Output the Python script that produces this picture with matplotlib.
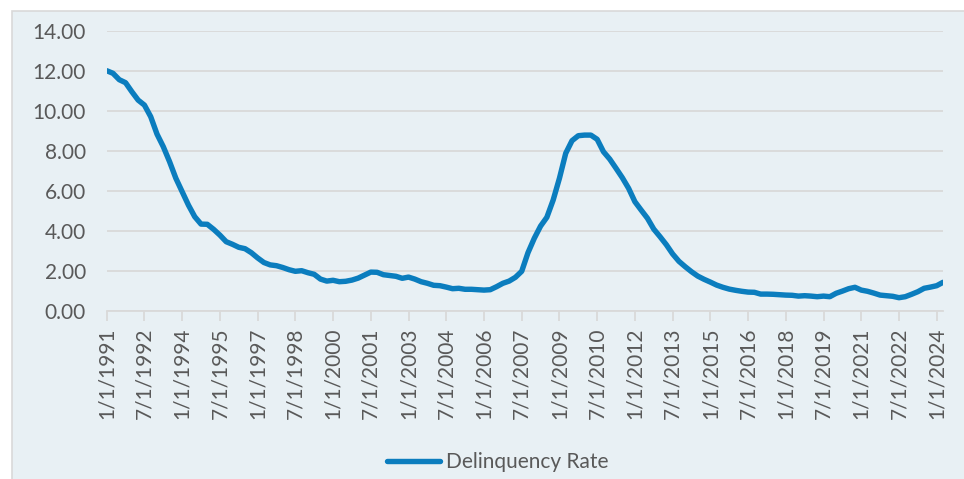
import matplotlib
matplotlib.use("Agg")
import matplotlib.pyplot as plt
from matplotlib.patches import Rectangle

# Quarterly delinquency rate, 1991 Q1 .. 2024 Q2
start_year = 1991
rates = [
    12.00, 11.87, 11.55, 11.40, 10.95, 10.53, 10.28, 9.70, 8.83, 8.20,
    7.45, 6.62, 5.95, 5.28, 4.70, 4.33, 4.32, 4.07, 3.78, 3.45,
    3.32, 3.17, 3.10, 2.90, 2.64, 2.41, 2.29, 2.25, 2.16, 2.05,
    1.97, 2.00, 1.90, 1.82, 1.58, 1.48, 1.52, 1.45, 1.47, 1.53,
    1.63, 1.78, 1.93, 1.92, 1.80, 1.76, 1.72, 1.62, 1.68, 1.58,
    1.45, 1.37, 1.27, 1.25, 1.18, 1.10, 1.12, 1.07, 1.07, 1.05,
    1.03, 1.05, 1.20, 1.37, 1.48, 1.67, 1.97, 2.90, 3.62, 4.23,
    4.67, 5.53, 6.62, 7.87, 8.50, 8.75, 8.78, 8.78, 8.57, 7.95,
    7.58, 7.12, 6.65, 6.12, 5.45, 5.03, 4.62, 4.08, 3.70, 3.30,
    2.84, 2.47, 2.20, 1.95, 1.73, 1.57, 1.43, 1.28, 1.17, 1.08,
    1.02, 0.97, 0.93, 0.92, 0.83, 0.83, 0.82, 0.80, 0.78, 0.77,
    0.73, 0.75, 0.73, 0.70, 0.73, 0.70, 0.87, 0.98, 1.10, 1.17,
    1.03, 0.97, 0.88, 0.78, 0.75, 0.72, 0.65, 0.70, 0.82, 0.95,
    1.12, 1.18, 1.25, 1.42,
]
y_ticks = [0, 2, 4, 6, 8, 10, 12, 14]
series_name = "Delinquency Rate"

n = len(rates)
quarters = list(range(n))
tick_idx = list(range(0, n, 6))
tick_labels = [f"{1 + 3 * (i % 4)}/1/{start_year + i // 4}" for i in tick_idx]

W, H = 964, 479
fig = plt.figure(figsize=(W / 100, H / 100), dpi=100, facecolor="white")
bg = "#E8F0F4"
fig.patches.append(Rectangle((12 / W, -0.01), 1.01 - 12 / W, 1.01 - 11 / H,
                             transform=fig.transFigure, facecolor=bg,
                             edgecolor="#D9D9D9", linewidth=1.2, zorder=-10))

font = ["Lato", "DejaVu Sans"]
txt = "#595959"
fs = 15

ax = fig.add_axes([106.7 / W, (H - 310.7) / H, (943 - 106.7) / W, 280 / H])
ax.set_zorder(2)
ax.set_facecolor("none")
ax.plot(quarters, rates, color="#0B7DBE", linewidth=3.9,
        solid_capstyle="round", solid_joinstyle="round", label=series_name, zorder=3)
ax.set_xlim(0, n - 1)
ax.set_ylim(0, 14)
ax.set_yticks(y_ticks)
ax.set_yticklabels([f"{v:.2f}" for v in y_ticks], fontsize=fs, color=txt, family=font)
ax.set_xticks(tick_idx)
ax.set_xticklabels(tick_labels, rotation=90, fontsize=fs, color=txt, family=font)
ax.tick_params(axis="y", length=0, pad=15)
ax.tick_params(axis="x", length=7, width=1.3, color="#D9D9D9", pad=5)
ax.grid(axis="y", color="#D9D9D9", linewidth=1.3, zorder=1)
for s in ["top", "right", "left"]:
    ax.spines[s].set_visible(False)
ax.spines["bottom"].set_color("#D9D9D9")
ax.spines["bottom"].set_linewidth(1.3)
ax.set_axisbelow(True)

leg = fig.legend(loc="center", bbox_to_anchor=(498 / W, 1 - 462 / H), frameon=False,
                 prop={"family": font, "size": fs}, handlelength=2.55, handletextpad=0.3)
for t in leg.get_texts():
    t.set_color(txt)

fig.savefig("out.png", dpi=100, facecolor="white")
